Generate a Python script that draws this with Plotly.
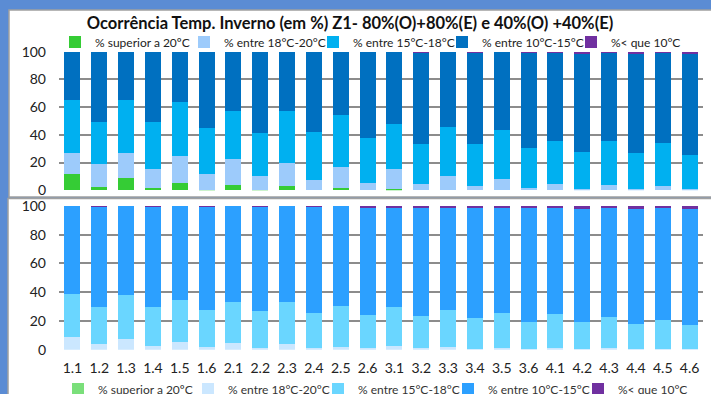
import plotly.graph_objects as go
from plotly.subplots import make_subplots

W, H = 711, 394

categorias = ["1.1", "1.2", "1.3", "1.4", "1.5", "1.6",
              "2.1", "2.2", "2.3", "2.4", "2.5", "2.6",
              "3.1", "3.2", "3.3", "3.4", "3.5", "3.6",
              "4.1", "4.2", "4.3", "4.4", "4.5", "4.6"]

nomes = ["% superior a 20ºC", "% entre 18°C-20°C", "% entre 15°C-18°C",
         "% entre 10°C-15°C", "%< que 10°C"]

# painel de cima
sup20_a = [12.0, 2.4, 8.9, 1.7, 5.5, 0.5, 3.8, 0.2, 3.1, 0.0, 1.7, 0.0,
           1.2, 0.0, 0.0, 0.0, 0.0, 0.0, 0.0, 0.0, 0.0, 0.0, 0.0, 0.0]
e18_20_a = [15.2, 16.8, 18.3, 13.7, 19.3, 11.3, 18.8, 9.9, 16.6, 7.7, 15.1, 5.5,
            13.9, 4.6, 10.6, 3.4, 7.9, 1.7, 4.6, 1.0, 3.8, 0.7, 2.9, 0.7]
e15_18_a = [37.9, 30.3, 37.9, 34.1, 38.7, 33.4, 34.6, 31.5, 37.5, 34.1, 37.5, 32.5,
            32.7, 28.8, 35.1, 30.0, 35.6, 28.8, 31.0, 26.6, 31.8, 26.2, 31.2, 24.8]
e10_15_a = [34.9, 50.5, 34.9, 50.5, 36.5, 54.8, 42.8, 58.4, 42.8, 58.2, 45.7, 62.0,
            52.2, 65.9, 54.3, 66.1, 56.5, 68.8, 63.9, 71.4, 63.9, 72.1, 65.5, 73.5]
inf10_a = [0.0, 0.0, 0.0, 0.0, 0.0, 0.0, 0.0, 0.0, 0.0, 0.0, 0.0, 0.0,
           0.0, 0.7, 0.0, 0.5, 0.0, 0.7, 0.5, 1.0, 0.5, 1.0, 0.4, 1.0]

# painel de baixo
sup20_b = [0.0] * 24
e18_20_b = [8.8, 3.7, 7.4, 2.8, 5.3, 1.6, 4.6, 1.4, 3.7, 1.2, 2.1, 1.2,
            2.8, 1.2, 1.6, 0.5, 1.2, 0.5, 1.2, 0.3, 1.2, 0.3, 0.5, 0.3]
e15_18_b = [29.7, 25.8, 30.7, 26.7, 29.5, 25.8, 28.6, 25.3, 29.5, 24.3, 28.3, 22.9,
            26.7, 22.2, 26.2, 21.5, 24.3, 18.8, 23.4, 19.0, 21.3, 17.3, 20.1, 16.9]
e10_15_b = [61.5, 70.0, 61.9, 70.0, 65.2, 72.1, 66.8, 72.8, 66.8, 74.0, 69.6, 74.7,
            69.5, 75.6, 71.2, 77.0, 73.5, 79.5, 74.4, 78.7, 76.3, 80.4, 78.2, 80.8]
inf10_b = [0.0, 0.5, 0.0, 0.5, 0.0, 0.5, 0.0, 0.5, 0.0, 0.5, 0.0, 1.2,
           1.0, 1.0, 1.0, 1.0, 1.0, 1.2, 1.0, 2.0, 1.2, 2.0, 1.2, 2.0]

cores_a = ["#35CC35", "#9DCBFB", "#00B0F0", "#0070C0", "#7030A0"]
cores_b = ["#7ADF7A", "#CBE7FF", "#6AD6FF", "#2CA0FF", "#7030A0"]

fonte = "Lato"
cinza = "#8C8C8C"

fig = make_subplots(rows=2, cols=1)

for nome, vals, cor in zip(nomes, [sup20_a, e18_20_a, e15_18_a, e10_15_a, inf10_a], cores_a):
    fig.add_trace(go.Bar(x=categorias, y=vals, name=nome, marker_color=cor,
                         marker_line_width=0, legend="legend"), row=1, col=1)

for nome, vals, cor in zip(nomes, [sup20_b, e18_20_b, e15_18_b, e10_15_b, inf10_b], cores_b):
    fig.add_trace(go.Bar(x=categorias, y=vals, name=nome, marker_color=cor,
                         marker_line_width=0, legend="legend2"), row=2, col=1)

eixo_y = dict(range=[0, 100], tickvals=[0, 20, 40, 60, 80, 100], showgrid=True,
              gridcolor=cinza, gridwidth=2, zeroline=False, showline=False,
              ticks="", ticklabelstandoff=12, automargin=False,
              tickfont=dict(family=fonte, size=14, color="#222"))

fig.update_layout(
    width=W, height=H,
    margin=dict(l=0, r=0, t=0, b=0, autoexpand=False),
    paper_bgcolor="#5B8CD4",
    plot_bgcolor="rgba(0,0,0,0)",
    barmode="stack",
    bargap=0.4,
    font=dict(family=fonte, color="#222"),
    title=dict(text="<b>Ocorrência Temp. Inverno (em %) Z1- 80%(O)+80%(E) e 40%(O) +40%(E)</b>",
               x=350 / W, xanchor="center", y=1 - 23 / H, yanchor="middle",
               font=dict(family=fonte, size=16.5, color="#111")),
    xaxis=dict(domain=[59 / W, 703 / W], showticklabels=False, ticks="", showgrid=False,
               automargin=False),
    xaxis2=dict(domain=[59 / W, 703 / W], ticks="", showgrid=False, ticklabelstandoff=8,
                automargin=False, tickfont=dict(family=fonte, size=14, color="#222")),
    yaxis=dict(domain=[1 - 190.3 / H, 1 - 51.7 / H], **eixo_y),
    yaxis2=dict(domain=[1 - 349.7 / H, 1 - 206 / H], **eixo_y),
    legend=dict(orientation="h", x=55 / W, xanchor="left", y=1 - 42 / H, yanchor="middle",
                entrywidth=84, entrywidthmode="pixels", itemwidth=30,
                bgcolor="rgba(0,0,0,0)", font=dict(family=fonte, size=12, color="#222"),
                traceorder="normal"),
    legend2=dict(orientation="h", x=58 / W, xanchor="left", y=1 - 389 / H, yanchor="middle",
                 entrywidth=85, entrywidthmode="pixels", itemwidth=30,
                 bgcolor="rgba(0,0,0,0)", font=dict(family=fonte, size=12, color="#333"),
                 traceorder="normal"),
    shapes=[
        dict(type="rect", xref="paper", yref="paper", layer="below",
             x0=9 / W, x1=1.02, y0=1 - 197 / H, y1=1 - 10 / H,
             fillcolor="white", line=dict(color="#A0A0A0", width=1.5)),
        dict(type="rect", xref="paper", yref="paper", layer="below",
             x0=8 / W, x1=1.02, y0=-0.02, y1=1 - 198.5 / H,
             fillcolor="white", line=dict(color="#A0A0A0", width=1.5)),
    ],
)

# a página traz margem de 8px no body; retirar para a figura ocupar a janela
fig.write_html("out.html", config={"displayModeBar": False},
               post_script="document.body.style.margin='0px';")
